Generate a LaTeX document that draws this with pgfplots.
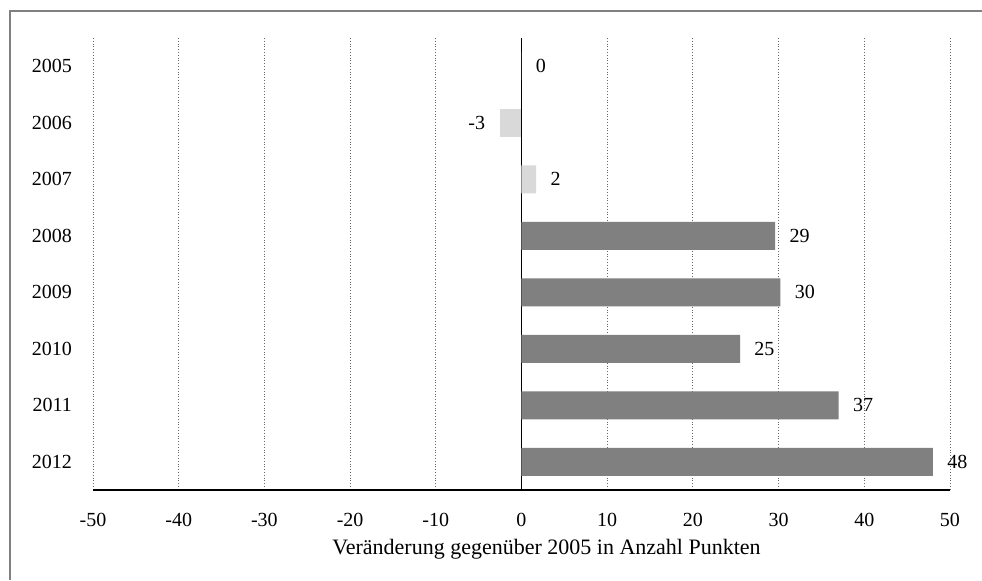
\documentclass[border=0pt]{standalone}
\usepackage{fontspec}
\setmainfont{Liberation Serif}
\usepackage{pgfplots}
\usepackage{pgfplotstable}
\pgfplotsset{compat=1.18}
\definecolor{darkbar}{HTML}{808080}
\definecolor{lightbar}{HTML}{D9D9D9}
\definecolor{framegray}{HTML}{808080}
\pgfplotstableread{
y x label
0 0 0
2 1.7 2
}\lightpos
\pgfplotstableread{
y x label
1 -2.5 -3
}\lightneg
\pgfplotstableread{
y x label
3 29.6 29
4 30.2 30
5 25.5 25
6 37.0 37
7 48.0 48
}\darkpos
\begin{document}
\begin{tikzpicture}
\useasboundingbox (0,0) rectangle (491pt,290pt);
\draw[framegray, line width=0.6pt] (5pt,0) -- (5pt,284.5pt) -- (491pt,284.5pt);
\begin{axis}[
  at={(46.5pt,45pt)}, anchor=south west,
  scale only axis, width=428.5pt, height=226pt,
  xbar, bar width=14pt, bar shift=0pt,
  xmin=-50, xmax=50, ymin=-0.5, ymax=7.5,
  y dir=reverse,
  xtick={-50,-40,...,50},
  ytick={0,...,7},
  yticklabels={2005,2006,2007,2008,2009,2010,2011,2012},
  /pgf/number format/assume math mode=true,
  major tick length=0pt,
  axis x line*=bottom, axis y line*=left,
  x axis line style={black, line width=0.6pt, -},
  y axis line style={draw=none},
  xmajorgrids, major grid style={densely dotted, black!60, line width=0.4pt},
  extra x ticks={0}, extra x tick labels={},
  extra x tick style={grid=major, major grid style={solid, black, line width=0.6pt}},
  xticklabel style={yshift=-8pt},
  yticklabel style={xshift=-7pt},
  xlabel={Veränderung gegenüber 2005 in Anzahl Punkten},
  xlabel style={at={(axis description cs:0.5,0)}, anchor=center, yshift=-29.5pt, xshift=12.5pt, font=\fontsize{11}{13}\selectfont},
  point meta=explicit symbolic,
  nodes near coords,
  every node near coord/.append style={font=\normalsize},
]
\addplot[fill=lightbar, draw=none, nodes near coords style={anchor=west, xshift=3.7pt}] table[x=x, y=y, meta=label] {\lightpos};
\addplot[fill=lightbar, draw=none, nodes near coords style={anchor=east, xshift=-4pt}] table[x=x, y=y, meta=label] {\lightneg};
\addplot[fill=darkbar, draw=none, nodes near coords style={anchor=west, xshift=3.7pt}] table[x=x, y=y, meta=label] {\darkpos};
\end{axis}
\end{tikzpicture}
\end{document}
